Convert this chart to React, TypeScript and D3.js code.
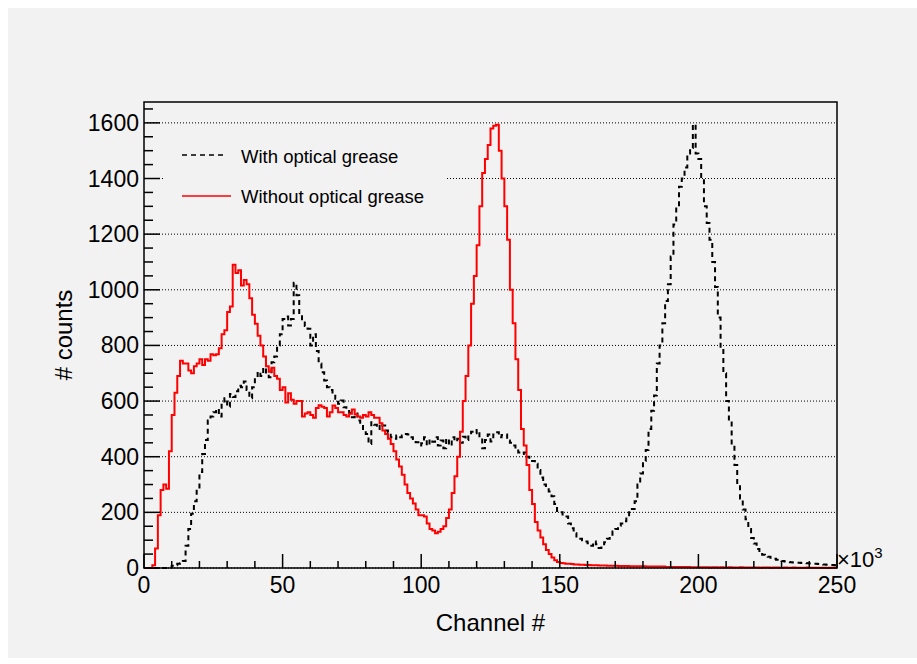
import React from "react";
import * as d3 from "d3";

// bin width 1 (x10^3 channels), 250 bins from 0 to 250
const BIN_WIDTH = 1;
const X_MAX = 250;

const withGrease = [
  0, 0, 0, 0, 0, 0, 0, 0, 0, 2,
  8, 10, 15, 17, 25, 80, 140, 195, 240, 285,
  345, 410, 460, 530, 545, 560, 572, 545, 595, 610,
  580, 625, 615, 635, 655, 650, 670, 640, 610, 650,
  686, 705, 690, 720, 695, 686, 740, 760, 800, 840,
  895, 904, 872, 895, 1025, 980, 910, 890, 870, 860,
  800, 840, 780, 735, 704, 674, 650, 640, 626, 608,
  590, 602, 578, 572, 558, 542, 555, 530, 515, 495,
  482, 446, 524, 515, 500, 518, 512, 494, 488, 470,
  465, 476, 470, 476, 482, 480, 470, 464, 452, 440,
  448, 470, 440, 462, 454, 470, 440, 458, 430, 465,
  440, 470, 455, 465, 450, 472, 460, 480, 490, 484,
  496, 470, 430, 460, 480, 455, 480, 488, 470, 478,
  480, 458, 450, 440, 428, 415, 410, 415, 400, 390,
  385, 375, 352, 325, 300, 290, 275, 258, 230, 205,
  200, 188, 185, 160, 143, 125, 107, 105, 100, 95,
  89, 80, 95, 85, 72, 85, 93, 105, 113, 131,
  140, 152, 160, 168, 185, 200, 212, 240, 300, 340,
  385, 424, 500, 565, 620, 735, 800, 880, 960, 1020,
  1120, 1235, 1300, 1370, 1400, 1440, 1490, 1510, 1595, 1490,
  1470, 1400, 1300, 1240, 1180, 1100, 1010, 900, 790, 700,
  600, 530, 440, 370, 300, 250, 210, 175, 140, 108,
  88, 68, 55, 48, 44, 40, 37, 33, 30, 28,
  25, 23, 22, 21, 20, 19, 19, 18, 18, 17,
  16, 15, 15, 14, 14, 13, 12, 11, 11, 10,
];

const withoutGrease = [
  0, 0, 0, 10, 70, 190, 280, 300, 285, 420,
  550, 630, 690, 745, 735, 735, 710, 700, 725, 735,
  750, 730, 750, 745, 768, 765, 768, 790, 840, 855,
  920, 940, 1090, 1060, 1070, 1015, 1035, 1020, 970, 910,
  878, 835, 800, 760, 725, 705, 720, 690, 680, 640,
  650, 595, 628, 605, 590, 600, 600, 545, 555, 560,
  550, 540, 575, 585, 580, 575, 545, 560, 584, 575,
  560, 560, 550, 545, 554, 570, 552, 545, 540, 550,
  545, 560, 550, 540, 540, 520, 494, 482, 465, 446,
  420, 390, 365, 335, 300, 270, 250, 232, 210, 190,
  190, 185, 160, 140, 135, 125, 130, 140, 150, 180,
  210, 270, 330, 400, 490, 600, 690, 800, 950, 1050,
  1160, 1300, 1420, 1470, 1520, 1580, 1590, 1593, 1500, 1400,
  1300, 1180, 1000, 880, 750, 640, 500, 440, 370, 280,
  230, 165, 135, 110, 85, 65, 50, 38, 28, 22,
  18, 17, 15, 15, 14, 13, 13, 12, 12, 11,
  11, 10, 10, 10, 9, 9, 9, 8, 8, 8,
  8, 7, 7, 7, 7, 6, 6, 6, 6, 6,
  6, 5, 5, 5, 5, 5, 5, 5, 4, 4,
  4, 4, 4, 4, 4, 4, 4, 3, 3, 3,
  3, 3, 3, 3, 2, 3, 3, 2, 3, 2,
  2, 3, 2, 2, 2, 3, 2, 2, 2, 2,
  2, 2, 1, 2, 2, 2, 1, 2, 2, 1,
  1, 2, 1, 1, 2, 1, 1, 1, 1, 2,
  1, 1, 1, 1, 1, 1, 0, 1, 1, 1,
];

const xMajorTicks = [0, 50, 100, 150, 200, 250];
const yMajorTicks = [0, 200, 400, 600, 800, 1000, 1200, 1400, 1600];
const legendLabels = ["With optical grease", "Without optical grease"];

const FONT = "'Liberation Sans', Arial, Helvetica, sans-serif";

export default function App() {
  const left = 144, right = 837, top = 102, bottom = 568;
  const x = d3.scaleLinear().domain([0, X_MAX]).range([left, right]);
  const y = d3.scaleLinear().domain([0, 1675]).range([bottom, top]);

  const stepPath = (vals: number[]) => {
    const pts: [number, number][] = vals.map((v, i) => [i * BIN_WIDTH, v]);
    pts.push([vals.length * BIN_WIDTH, vals[vals.length - 1]]);
    return d3
      .line<[number, number]>()
      .x((d) => x(d[0]))
      .y((d) => y(d[1]))
      .curve(d3.curveStepAfter)(pts) as string;
  };

  const xMinor = d3.range(0, X_MAX + 0.001, 10);
  const yMinor = d3.range(0, 1675, 50);

  return (
    <svg
      width={917}
      height={664}
      style={{ position: "absolute", left: 0, top: 0 }}
      fontFamily={FONT}
    >
      <rect x={8} y={8} width={909} height={650} fill="#f2f2f2" />
      <defs>
        <clipPath id="frameClip">
          <rect x={left} y={top} width={right - left} height={bottom - top + 1} />
        </clipPath>
      </defs>

      {/* grid */}
      {yMajorTicks.map((t) => (
        <line
          key={"g" + t}
          x1={left}
          x2={right}
          y1={y(t)}
          y2={y(t)}
          stroke="#000"
          strokeWidth={1}
          strokeDasharray="1,2"
        />
      ))}

      {/* legend box (hides grid) */}
      <rect x={165} y={133} width={282} height={82} fill="#f2f2f2" />
      <line x1={182} x2={227} y1={155} y2={155} stroke="#000" strokeWidth={1.5} strokeDasharray="5,4" />
      <text x={241} y={163} fontSize={18.5} fill="#000">{legendLabels[0]}</text>
      <line x1={182} x2={231} y1={196} y2={196} stroke="#ff0000" strokeWidth={1.5} />
      <text x={241} y={203} fontSize={18.5} fill="#000">{legendLabels[1]}</text>

      {/* histograms */}
      <g clipPath="url(#frameClip)">
        <path
          d={stepPath(withGrease)}
          fill="none"
          stroke="#000"
          strokeWidth={2}
          strokeDasharray="5,4"
        />
        <path d={stepPath(withoutGrease)} fill="none" stroke="#ff0000" strokeWidth={2} />
      </g>

      {/* frame */}
      <rect
        x={left}
        y={top}
        width={right - left}
        height={bottom - top}
        fill="none"
        stroke="#000"
        strokeWidth={1.5}
      />

      {/* x ticks */}
      {xMinor.map((t) => {
        const major = t % 50 === 0;
        return (
          <line
            key={"xt" + t}
            x1={x(t)}
            x2={x(t)}
            y1={bottom}
            y2={bottom - (major ? 14 : 7)}
            stroke="#000"
            strokeWidth={1.5}
          />
        );
      })}
      {xMajorTicks.map((t) => (
        <text key={"xl" + t} x={x(t)} y={593} fontSize={23} textAnchor="middle" fill="#000">
          {t}
        </text>
      ))}

      {/* y ticks */}
      {yMinor.map((t) => {
        const major = t % 200 === 0;
        return (
          <line
            key={"yt" + t}
            x1={left}
            x2={left + (major ? 16 : 9)}
            y1={y(t)}
            y2={y(t)}
            stroke="#000"
            strokeWidth={1.5}
          />
        );
      })}
      {yMajorTicks.map((t) => (
        <text key={"yl" + t} x={139} y={y(t) + 8} fontSize={23} textAnchor="end" fill="#000">
          {t}
        </text>
      ))}

      {/* x10^3 */}
      <text x={837} y={567} fontSize={22} fill="#000">
        ×10
        <tspan dy={-9} fontSize={15}>3</tspan>
      </text>

      {/* axis titles */}
      <text x={(left + right) / 2} y={631} fontSize={24} textAnchor="middle" fill="#000">
        Channel #
      </text>
      <text
        transform={`translate(72, 335) rotate(-90)`}
        fontSize={24}
        textAnchor="middle"
        fill="#000"
      >
        # counts
      </text>
    </svg>
  );
}
